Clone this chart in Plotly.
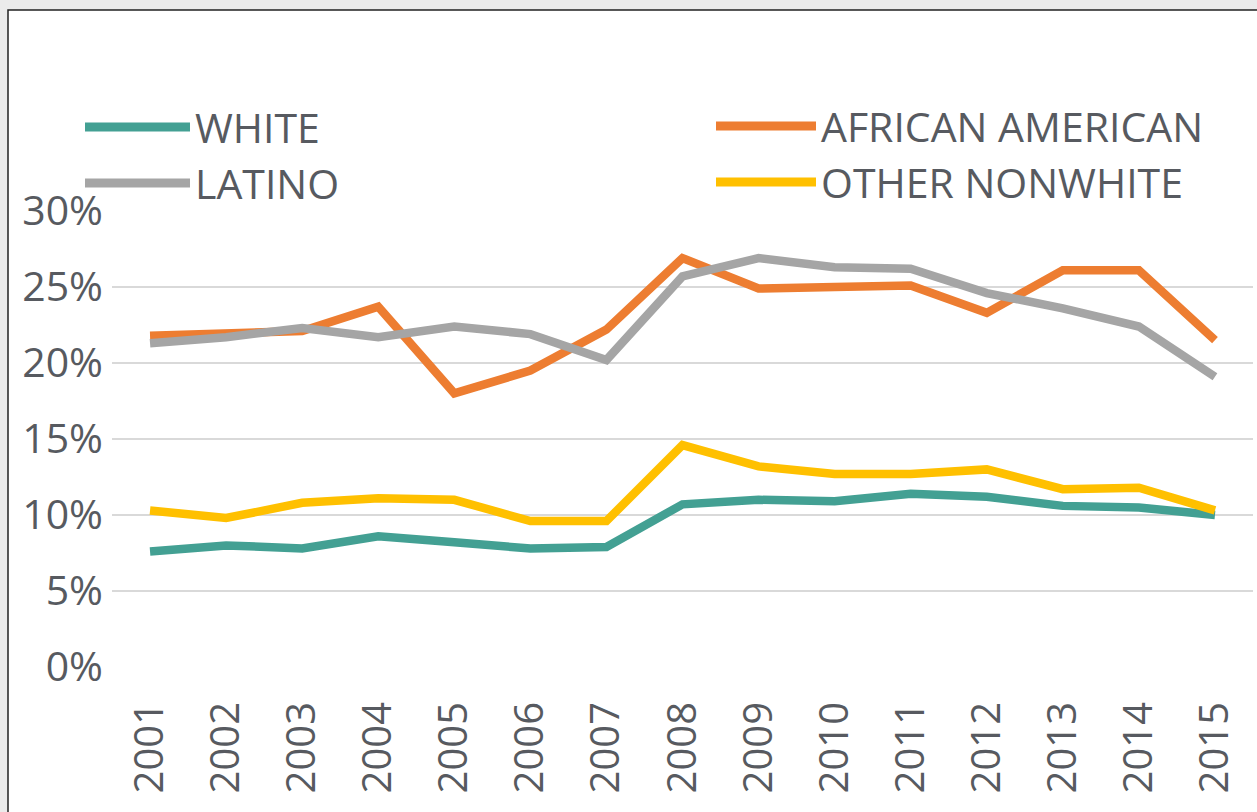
import plotly.graph_objects as go

# ---- data ----
years = [str(y) for y in range(2001, 2016)]
white = [7.6, 8.0, 7.8, 8.6, 8.2, 7.8, 7.9, 10.7, 11.0, 10.9, 11.4, 11.2, 10.6, 10.5, 10.0]
african_american = [21.8, 22.0, 22.1, 23.7, 18.0, 19.5, 22.2, 26.9, 24.9, 25.0, 25.1, 23.3, 26.1, 26.1, 21.5]
latino = [21.3, 21.7, 22.3, 21.7, 22.4, 21.9, 20.2, 25.7, 26.9, 26.3, 26.2, 24.6, 23.6, 22.4, 19.1]
other_nonwhite = [10.3, 9.8, 10.8, 11.1, 11.0, 9.6, 9.6, 14.6, 13.2, 12.7, 12.7, 13.0, 11.7, 11.8, 10.3]
y_ticks = [0, 5, 10, 15, 20, 25, 30]
y_tick_labels = ["0%", "5%", "10%", "15%", "20%", "25%", "30%"]

series = [
    ("WHITE", white, "#43A093"),
    ("AFRICAN AMERICAN", african_american, "#ED7D31"),
    ("LATINO", latino, "#A5A5A5"),
    ("OTHER NONWHITE", other_nonwhite, "#FFC000"),
]

W, H = 1257, 812
L, R, T, B = 112, 4, 211, 145
PW, PH = W - L - R, H - T - B

def px(x):
    return (x - L) / PW

def py(y):
    return (H - B - y) / PH

FONT = "Open Sans"
TXT = "#575A60"

fig = go.Figure()
for name, vals, color in series:
    fig.add_trace(go.Scatter(
        x=years, y=vals, mode="lines", name=name,
        line=dict(color=color, width=8.5), showlegend=False,
    ))

shapes = [
    dict(type="rect", xref="paper", yref="paper", x0=px(8), x1=px(W + 20), y0=py(H + 20), y1=py(10),
         fillcolor="white", line=dict(color="#222222", width=1.5), layer="below"),
]
annotations = []

legend_items = [
    ("WHITE", "#43A093", 85, 190, 127),
    ("LATINO", "#A5A5A5", 85, 190, 183),
    ("AFRICAN AMERICAN", "#ED7D31", 716, 816, 126),
    ("OTHER NONWHITE", "#FFC000", 716, 816, 182),
]
for name, color, x0, x1, yy in legend_items:
    shapes.append(dict(type="line", xref="paper", yref="paper", x0=px(x0), x1=px(x1), y0=py(yy), y1=py(yy),
                       line=dict(color=color, width=9)))
    annotations.append(dict(text=name, xref="paper", yref="paper", x=px(x1 + 3), y=py(yy),
                            xanchor="left", yanchor="middle", showarrow=False,
                            font=dict(family=FONT, size=41, color=TXT)))

fig.update_layout(
    width=W, height=H,
    margin=dict(l=L, r=R, t=T, b=B, pad=0),
    paper_bgcolor="#EBEBEB", plot_bgcolor="rgba(0,0,0,0)",
    shapes=shapes, annotations=annotations,
    font=dict(family=FONT, size=40, color=TXT),
    xaxis=dict(type="category", tickangle=-90, showgrid=False, zeroline=False, showline=False,
               ticks="", ticklabelstandoff=26, tickfont=dict(family=FONT, size=40, color=TXT),
               range=[-0.5, len(years) - 0.5]),
    yaxis=dict(range=[0, 30], tickmode="array", tickvals=y_ticks, ticktext=y_tick_labels,
               showgrid=True, gridcolor="#D9D9D9",
               gridwidth=2, zeroline=False, showline=False, ticks="", ticklabelstandoff=8,
               tickfont=dict(family=FONT, size=41, color=TXT)),
)

fig.write_html("out.html", config={"displayModeBar": False},
               post_script="document.body.style.margin='0';document.body.style.overflow='hidden';")
